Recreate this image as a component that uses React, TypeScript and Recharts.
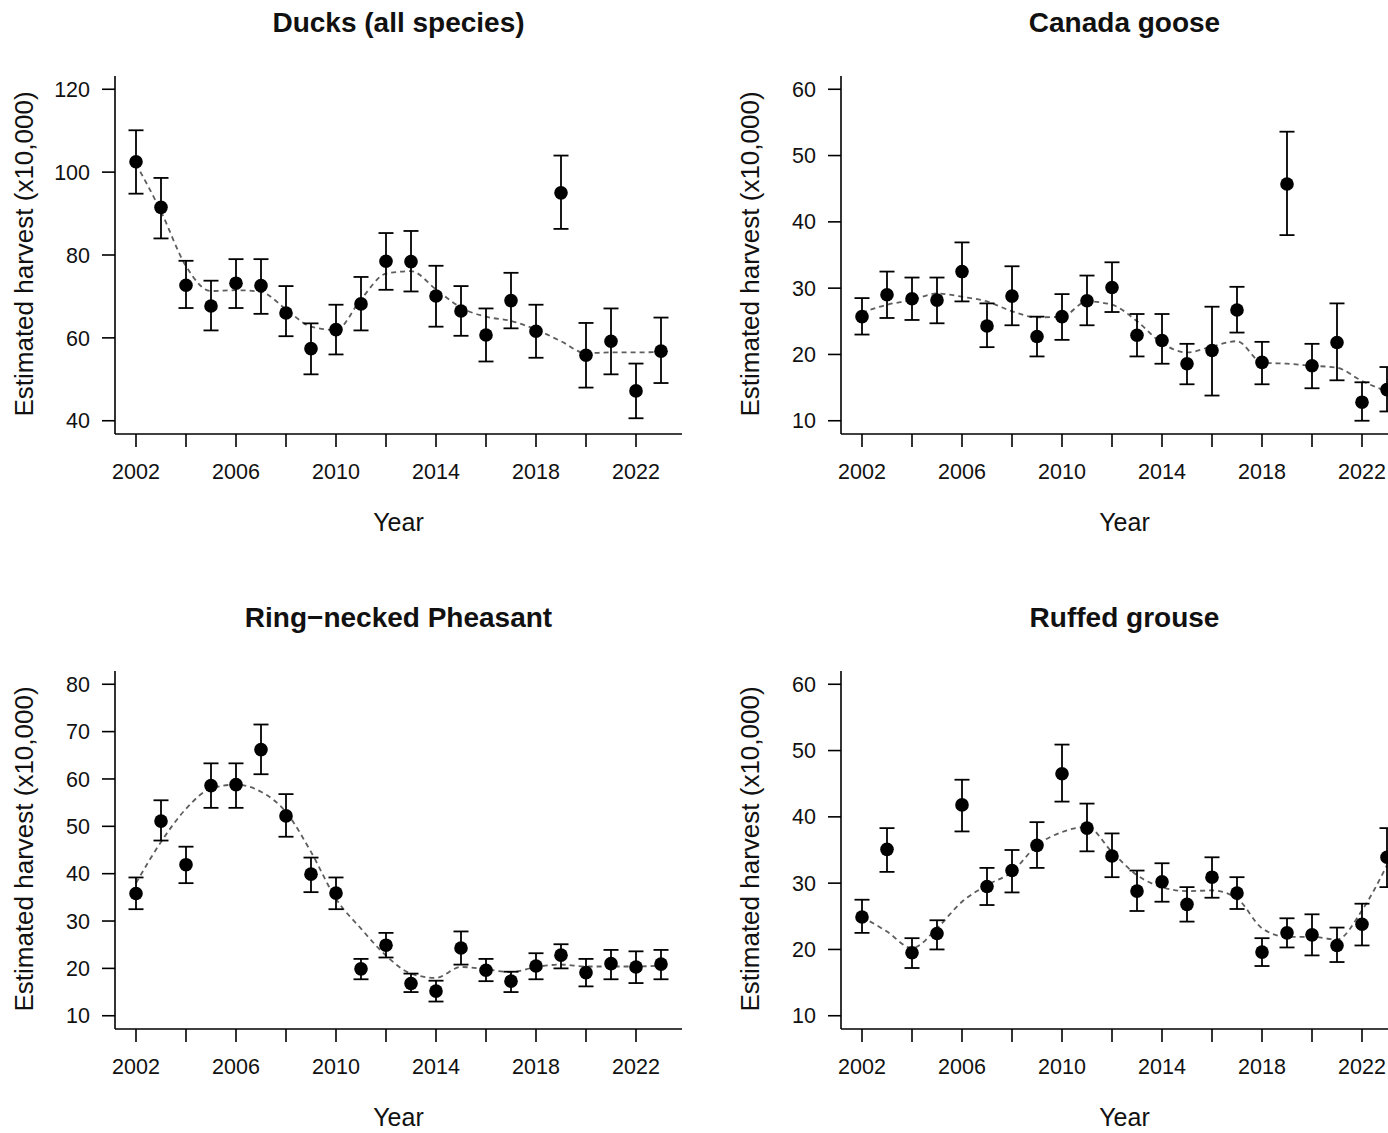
import { ComposedChart, Scatter, Line, XAxis, YAxis, ErrorBar } from 'recharts';

const years = [2002, 2003, 2004, 2005, 2006, 2007, 2008, 2009, 2010, 2011, 2012, 2013, 2014, 2015, 2016, 2017, 2018, 2019, 2020, 2021, 2022, 2023];
const xTicks = [2002, 2004, 2006, 2008, 2010, 2012, 2014, 2016, 2018, 2020, 2022];

// Ducks (all species)
const duckValue = [102.5, 91.5, 72.7, 67.7, 73.2, 72.6, 66.0, 57.4, 62.0, 68.2, 78.5, 78.4, 70.1, 66.5, 60.7, 69.0, 61.6, 95.0, 55.8, 59.2, 47.2, 56.8];
const duckLow = [94.8, 84.0, 67.2, 61.8, 67.2, 65.8, 60.4, 51.2, 56.0, 61.8, 71.6, 71.2, 62.7, 60.5, 54.3, 62.3, 55.2, 86.3, 48.0, 51.2, 40.6, 49.1];
const duckHigh = [110.1, 98.6, 78.6, 73.8, 79.0, 79.0, 72.5, 63.5, 68.0, 74.7, 85.3, 85.8, 77.4, 72.5, 67.1, 75.7, 68.0, 104.0, 63.6, 67.1, 53.8, 64.9];
const duckSmooth = [102.0, 90.5, 77.3, 71.3, 71.5, 71.1, 66.9, 62.7, 61.9, 69.3, 75.5, 76.1, 71.7, 67.3, 65.1, 64.1, 62.0, 59.2, 56.3, 56.5, 56.5, 56.6];
const duckTicks = [40, 60, 80, 100, 120];

// Canada goose
const gooseValue = [25.7, 29.0, 28.4, 28.2, 32.5, 24.3, 28.8, 22.7, 25.7, 28.1, 30.1, 22.9, 22.1, 18.6, 20.6, 26.7, 18.8, 45.7, 18.3, 21.8, 12.8, 14.7];
const gooseLow = [23.0, 25.5, 25.2, 24.7, 28.0, 21.1, 24.4, 19.7, 22.2, 24.4, 26.4, 19.7, 18.6, 15.5, 13.8, 23.3, 15.5, 38.0, 14.9, 16.1, 10.0, 11.4];
const gooseHigh = [28.5, 32.5, 31.6, 31.6, 36.9, 27.7, 33.3, 25.7, 29.1, 31.9, 33.9, 26.1, 26.1, 21.6, 27.2, 30.2, 21.9, 53.6, 21.6, 27.7, 15.8, 18.1];
const gooseSmooth = [26.3, 27.5, 28.2, 29.2, 28.7, 28.0, 26.5, 25.6, 25.7, 28.0, 27.5, 25.0, 21.7, 20.3, 21.2, 22.0, 18.8, 18.6, 18.3, 18.0, 16.0, 14.4];
const gooseTicks = [10, 20, 30, 40, 50, 60];

// Ring-necked Pheasant
const pheasantValue = [35.8, 51.1, 41.9, 58.6, 58.8, 66.2, 52.2, 39.9, 35.9, 19.9, 24.9, 16.8, 15.2, 24.3, 19.6, 17.3, 20.5, 22.8, 19.1, 21.0, 20.3, 20.9];
const pheasantLow = [32.5, 47.0, 38.0, 53.9, 53.9, 61.0, 47.8, 36.1, 32.5, 17.7, 22.3, 15.0, 13.0, 20.8, 17.3, 15.0, 17.7, 20.0, 16.2, 17.7, 16.9, 17.7];
const pheasantHigh = [39.2, 55.5, 45.7, 63.3, 63.3, 71.5, 56.8, 43.4, 39.2, 22.0, 27.5, 18.9, 17.4, 27.8, 22.0, 19.3, 23.2, 25.1, 22.0, 23.9, 23.6, 23.9];
const pheasantSmooth = [38.0, 46.7, 53.7, 58.0, 58.8, 57.3, 53.0, 44.6, 34.7, 28.4, 22.7, 18.9, 18.0, 20.3, 19.8, 19.2, 20.3, 20.8, 20.4, 20.4, 20.4, 20.6];
const pheasantTicks = [10, 20, 30, 40, 50, 60, 70, 80];

// Ruffed grouse
const grouseValue = [24.9, 35.1, 19.5, 22.4, 41.8, 29.5, 31.9, 35.7, 46.5, 38.3, 34.1, 28.8, 30.2, 26.8, 30.9, 28.5, 19.6, 22.5, 22.2, 20.6, 23.8, 33.9];
const grouseLow = [22.5, 31.7, 17.2, 20.0, 37.8, 26.7, 28.6, 32.3, 42.3, 34.8, 30.9, 25.8, 27.2, 24.2, 27.8, 26.1, 17.5, 20.3, 19.1, 18.1, 20.6, 29.4];
const grouseHigh = [27.5, 38.3, 21.7, 24.4, 45.6, 32.3, 35.0, 39.2, 50.9, 42.0, 37.5, 31.9, 33.0, 29.4, 33.9, 30.9, 21.7, 24.7, 25.3, 23.3, 26.9, 38.3];
const grouseSmooth = [24.9, 22.7, 20.2, 23.2, 27.2, 29.7, 31.7, 35.7, 37.7, 38.5, 34.7, 31.2, 29.4, 28.8, 28.9, 27.7, 23.2, 21.9, 21.9, 21.5, 25.9, 32.7];

const FONT = '"Liberation Sans", Arial, Helvetica, sans-serif';
const X_DOMAIN: [number, number] = [2001.16, 2023.84];

function makeRows(values: number[], low: number[], high: number[], smooth: number[]) {
  return years.map((year, i) => ({
    year,
    value: values[i],
    err: [values[i] - low[i], high[i] - values[i]],
    smooth: smooth[i],
  }));
}

// R-style 4% axis expansion around the tick range
function expand(ticks: number[]): [number, number] {
  const lo = ticks[0];
  const hi = ticks[ticks.length - 1];
  const pad = (hi - lo) * 0.04;
  return [lo - pad, hi + pad];
}

function Dot(props: any) {
  const { cx, cy } = props;
  if (cx == null || cy == null) return null;
  return <circle cx={cx} cy={cy} r={6.8} fill="#000" />;
}

type PanelProps = {
  title: string;
  left: number;
  top: number;
  values: number[];
  low: number[];
  high: number[];
  smooth: number[];
  yTicks: number[];
};

const axisStroke = { stroke: '#000', strokeWidth: 1.6 };
const tickStyle = { fill: '#111', fontSize: 21.5, fontFamily: FONT };

function Panel({ title, left, top, values, low, high, smooth, yTicks }: PanelProps) {
  const rows = makeRows(values, low, high, smooth);
  const plotLeft = left + 115;
  const plotCenter = plotLeft + 567 / 2;
  return (
    <>
      <div style={{ position: 'absolute', left: plotCenter, top: top + 23, transform: 'translate(-50%, -50%)', fontWeight: 'bold', fontSize: 28, lineHeight: 1, whiteSpace: 'nowrap', color: '#111' }}>
        {title}
      </div>
      <div style={{ position: 'absolute', left: plotCenter, top: top + 522, transform: 'translate(-50%, -50%)', fontSize: 25, lineHeight: 1, whiteSpace: 'nowrap', color: '#111' }}>
        Year
      </div>
      <div style={{ position: 'absolute', left: left + 24, top: top + 254, transform: 'translate(-50%, -50%) rotate(-90deg)', fontSize: 26, lineHeight: 1, whiteSpace: 'nowrap', color: '#111' }}>
        Estimated harvest (x10,000)
      </div>
      <div style={{ position: 'absolute', left, top }}>
        <ComposedChart width={700} height={560} data={rows} margin={{ top: 76, right: 18, bottom: 66, left: 0 }}>
          <XAxis
            type="number"
            dataKey="year"
            domain={X_DOMAIN}
            ticks={xTicks}
            interval={0}
            allowDataOverflow
            height={60}
            tickSize={13}
            tickMargin={17}
            axisLine={axisStroke}
            tickLine={axisStroke}
            tick={tickStyle}
            tickFormatter={(v: number) => ((v - 2002) % 4 === 0 ? String(v) : '')}
          />
          <YAxis
            type="number"
            domain={expand(yTicks)}
            ticks={yTicks}
            interval={0}
            allowDataOverflow
            width={115}
            tickSize={13}
            tickMargin={12}
            axisLine={axisStroke}
            tickLine={axisStroke}
            tick={tickStyle}
          />
          <Line
            dataKey="smooth"
            type="monotone"
            stroke="#5e5e5e"
            strokeWidth={1.8}
            strokeDasharray="5 4"
            dot={false}
            activeDot={false}
            isAnimationActive={false}
          />
          <Scatter dataKey="value" shape={<Dot />} isAnimationActive={false}>
            <ErrorBar dataKey="err" direction="y" width={7.5} stroke="#000" strokeWidth={1.8} />
          </Scatter>
        </ComposedChart>
      </div>
    </>
  );
}

export default function App() {
  return (
    <div style={{ position: 'absolute', left: 0, top: 0, width: 1388, height: 1133, overflow: 'hidden', background: '#fff', fontFamily: FONT }}>
      <Panel title="Ducks (all species)" left={0} top={0} values={duckValue} low={duckLow} high={duckHigh} smooth={duckSmooth} yTicks={duckTicks} />
      <Panel title="Canada goose" left={726} top={0} values={gooseValue} low={gooseLow} high={gooseHigh} smooth={gooseSmooth} yTicks={gooseTicks} />
      <Panel title="Ring−necked Pheasant" left={0} top={595} values={pheasantValue} low={pheasantLow} high={pheasantHigh} smooth={pheasantSmooth} yTicks={pheasantTicks} />
      <Panel title="Ruffed grouse" left={726} top={595} values={grouseValue} low={grouseLow} high={grouseHigh} smooth={grouseSmooth} yTicks={gooseTicks} />
    </div>
  );
}
